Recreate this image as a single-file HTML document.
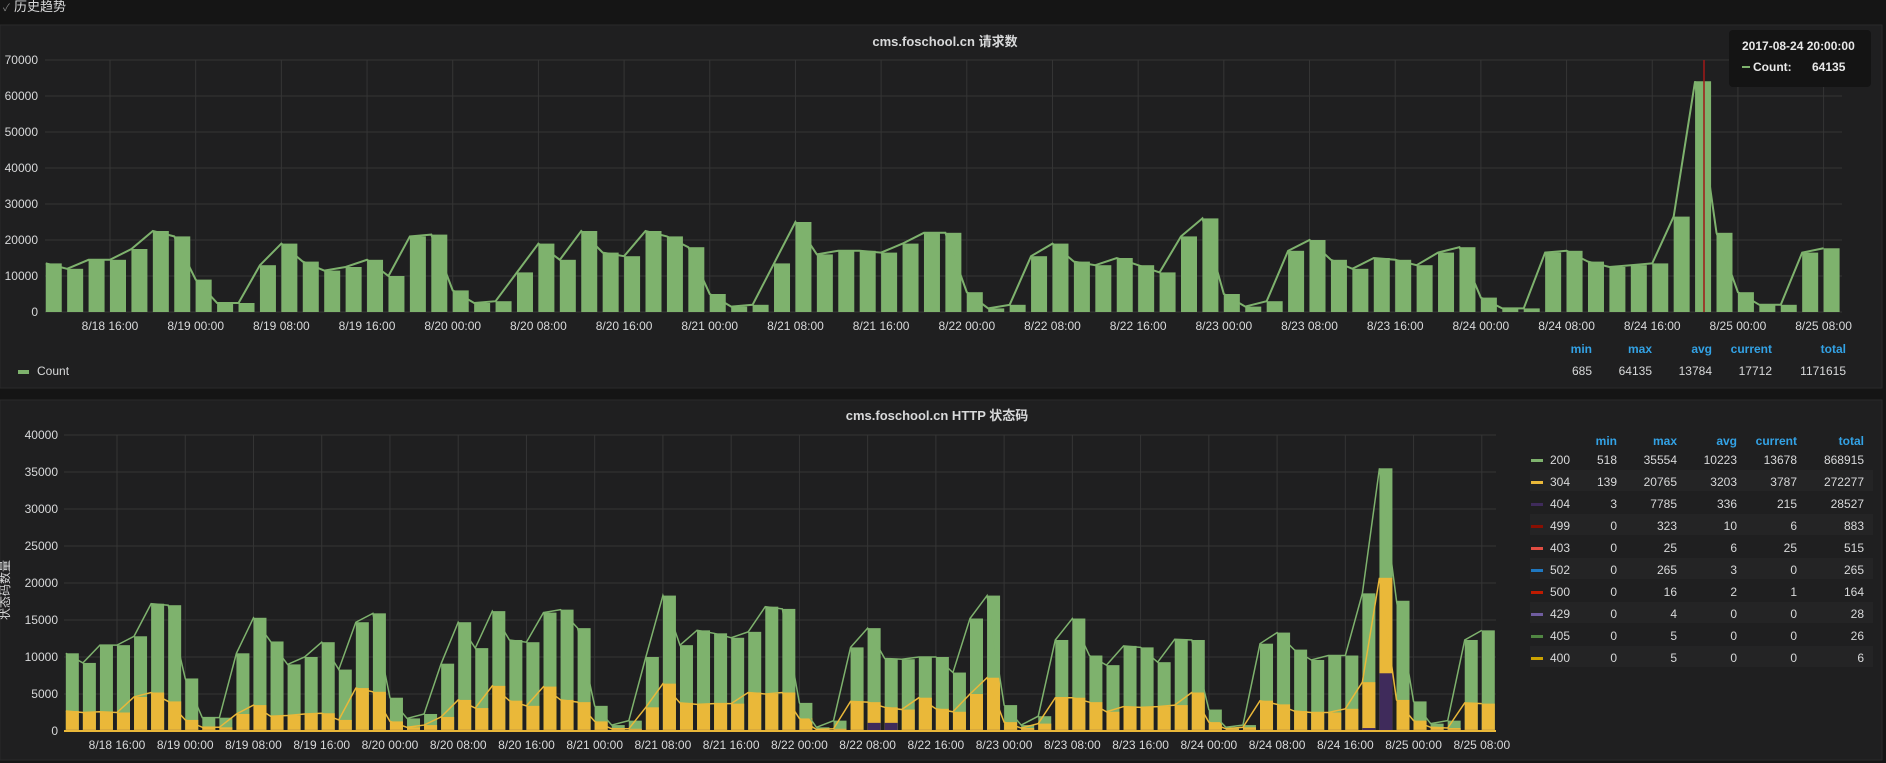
<!DOCTYPE html>
<html><head><meta charset="utf-8">
<style>
html,body{margin:0;padding:0;background:#141414;width:1886px;height:763px;overflow:hidden;font-family:"Liberation Sans","Noto Sans CJK SC",sans-serif;}
svg{display:block}
</style></head>
<body>
<svg id="s" width="1886" height="763" xmlns="http://www.w3.org/2000/svg" font-family="Liberation Sans, Noto Sans CJK SC, sans-serif">
<rect x="0" y="0" width="1886" height="763" fill="#151515"/>
<rect x="0" y="25" width="1882" height="363" fill="#1f1f20" stroke="#2a2a2a"/>
<rect x="0" y="400" width="1882" height="360" fill="#1f1f20" stroke="#2a2a2a"/>
<text x="3" y="11" fill="#888" font-size="10">✓</text>
<text x="14" y="11" fill="#d8d9da" font-size="13">历史趋势</text>
<text x="945" y="46" fill="#d8d9da" font-size="13" font-weight="bold" text-anchor="middle">cms.foschool.cn 请求数</text>
<text x="937" y="420" fill="#d8d9da" font-size="13" font-weight="bold" text-anchor="middle">cms.foschool.cn HTTP 状态码</text>
<g id="g"></g>
</svg>
<script>
var NS="http://www.w3.org/2000/svg",G=document.getElementById('g');
function el(t,a,txt){var e=document.createElementNS(NS,t);for(var k in a)e.setAttribute(k,a[k]);if(txt!=null)e.textContent=txt;G.appendChild(e);return e;}
var labels=["8/18 16:00","8/19 00:00","8/19 08:00","8/19 16:00","8/20 00:00","8/20 08:00","8/20 16:00","8/21 00:00","8/21 08:00","8/21 16:00","8/22 00:00","8/22 08:00","8/22 16:00","8/23 00:00","8/23 08:00","8/23 16:00","8/24 00:00","8/24 08:00","8/24 16:00","8/25 00:00","8/25 08:00"];
var cnt=[13.5,12,14.5,14.5,17.5,22.5,21,9,2.5,2.5,13,19,14,11.5,12.5,14.5,10,21,21.5,6,2.5,3,11,19,14.5,22.5,16.5,15.5,22.5,21,18,
5,1.5,2,13.5,25,16,17,17,16.5,19,22,22,
5.5,1,2,15.5,19,14,13,15,13,11,21,26,
5,1.5,3,17,20,14.5,12,15,14.5,13,16.5,18,
4,1,1,16.5,17,14,12.5,13,13.5,26.5,64.1,22,
5.5,2,2,16.5,17.7];
(function(){
 var L=45,R=1842,Y0=312,ppk=252/70,x0=110,pph=10.71;
 for(var i=0;i<=7;i++){var y=Y0-i*10*ppk;el('line',{x1:L,x2:R,y1:y,y2:y,stroke:'#353535','stroke-width':1});
  el('text',{x:38,y:y+4,fill:'#d8d9da','font-size':12,'text-anchor':'end'},String(i*10000));}
 for(var j=0;j<labels.length;j++){var x=x0+j*8*pph;el('line',{x1:x,x2:x,y1:60,y2:Y0,stroke:'#353535'});
  el('text',{x:x,y:330,fill:'#d8d9da','font-size':12,'text-anchor':'middle'},labels[j]);}
 var pts=[];
 for(var i=0;i<cnt.length;i++){var x=x0+(i*2-6)*pph,h=cnt[i]*ppk;
  el('rect',{x:x,y:Y0-h,width:16,height:h,fill:'#7eb26d'});pts.push(x+','+(Y0-h));}
 el('polyline',{points:pts.join(' '),fill:'none',stroke:'#7eb26d','stroke-width':2});
 el('line',{x1:1704,x2:1704,y1:60,y2:Y0,stroke:'#a01818','stroke-width':1.5});
 el('rect',{x:1729,y:30,width:142,height:57,rx:4,fill:'#141414'});
 el('text',{x:1742,y:50,fill:'#e8e8e8','font-size':12,'font-weight':'bold'},'2017-08-24 20:00:00');
 el('rect',{x:1742,y:66,width:8,height:2,fill:'#7eb26d'});
 el('text',{x:1753,y:71,fill:'#e8e8e8','font-size':12,'font-weight':'bold'},'Count:');
 el('text',{x:1812,y:71,fill:'#e8e8e8','font-size':12,'font-weight':'bold','text-anchor':'start'},'64135');
 el('rect',{x:18,y:370,width:11,height:4,fill:'#7eb26d'});
 el('text',{x:37,y:375,fill:'#d8d9da','font-size':12},'Count');
 var hx=[1592,1652,1712,1772,1846],hs=['min','max','avg','current','total'],vs=['685','64135','13784','17712','1171615'];
 for(var k=0;k<5;k++){el('text',{x:hx[k],y:353,fill:'#33a2e5','font-size':12,'font-weight':'bold','text-anchor':'end'},hs[k]);
  el('text',{x:hx[k],y:375,fill:'#d8d9da','font-size':12,'text-anchor':'end'},vs[k]);}
})();
var grn=[10.5,9.2,11.6,11.6,12.8,17.2,17,7.1,1.8,1.8,10.5,15.3,12.1,9,10,12,8.3,14.7,15.9,4.5,1.7,2.3,9.1,14.7,11.2,16.2,12.3,12,16,16.4,13.9,
3.4,0.8,1.4,10,18.3,11.6,13.6,13.2,12.6,13.4,16.8,16.5,
3.8,0.5,1.4,11.3,13.9,9.8,9.7,10,10,7.9,15.2,18.3,
3.5,0.8,2,12.3,15.2,10.2,8.9,11.5,11.3,9.3,12.4,12.3,
2.9,0.5,0.8,11.8,13.3,11,9.6,10.2,10.2,18.6,35.5,17.6,
4,1,1.4,12.3,13.6];
var yel=[2.7,2.5,2.6,2.5,4.6,5.2,4,1.5,0.5,0.5,2.3,3.5,2,2.1,2.3,2.4,1.5,5.8,5.3,1.3,0.5,0.8,1.9,4.2,3.1,6.1,4.1,3.4,6,4.2,3.9,
1.3,0.3,0.3,3.2,6.4,3.8,3.6,3.7,3.7,5.2,5,5.2,
1.7,0.2,0.3,4,3.9,3.2,2.9,4.5,3,2.6,5,7.2,
1.2,0.4,1,4.5,4.5,3.9,2.6,3.3,3.2,3.3,3.5,5.2,
1.2,0.3,0.5,4.1,3.6,2.7,2.5,2.5,3,6.6,20.7,4.2,
1.4,0.5,0.4,3.8,3.7];
(function(){
 var L=64,R=1496,Y0=731,ppk=296/40,x0=117,pph=8.53;
 for(var i=0;i<=8;i++){var y=Y0-i*5*ppk;el('line',{x1:L,x2:R,y1:y,y2:y,stroke:'#353535'});
  el('text',{x:58,y:y+4,fill:'#d8d9da','font-size':12,'text-anchor':'end'},String(i*5000));}
 for(var j=0;j<labels.length;j++){var x=x0+j*8*pph;el('line',{x1:x,x2:x,y1:435,y2:Y0,stroke:'#353535'});
  el('text',{x:x,y:749,fill:'#d8d9da','font-size':12,'text-anchor':'middle'},labels[j]);}
 var pg=[],py=[];
 for(var i=0;i<grn.length;i++){var x=x0+(i*2-6)*pph,hg=grn[i]*ppk,hy=yel[i]*ppk;
  el('rect',{x:x,y:Y0-hg,width:13,height:hg,fill:'#7eb26d'});
  el('rect',{x:x,y:Y0-hy,width:13,height:hy,fill:'#eab839'});
  var p=0.15; if(i==47||i==48)p=1.1; if(i==77)p=7.8; if(i==76)p=0.4;
  el('rect',{x:x,y:Y0-p*ppk,width:13,height:p*ppk,fill:'#3f2b5b'});
  pg.push(x+','+(Y0-hg));py.push(x+','+(Y0-hy));}
 el('polyline',{points:pg.join(' '),fill:'none',stroke:'#7eb26d','stroke-width':1.5});
 el('polyline',{points:py.join(' '),fill:'none',stroke:'#eab839','stroke-width':1.5});
 el('line',{x1:L,x2:R,y1:Y0,y2:Y0,stroke:'#eab839','stroke-width':2});
 el('text',{x:0,y:0,fill:'#d8d9da','font-size':12,transform:'translate(9,590) rotate(-90)','text-anchor':'middle'},'状态码数量');
 var hx=[1617,1677,1737,1797,1864],hs=['min','max','avg','current','total'];
 for(var k=0;k<5;k++)el('text',{x:hx[k],y:445,fill:'#33a2e5','font-size':12,'font-weight':'bold','text-anchor':'end'},hs[k]);
 var rows=[['200','#7eb26d','518','35554','10223','13678','868915'],['304','#eab839','139','20765','3203','3787','272277'],['404','#3f2b5b','3','7785','336','215','28527'],['499','#890f02','0','323','10','6','883'],['403','#e24d42','0','25','6','25','515'],['502','#1f78c1','0','265','3','0','265'],['500','#bf1b00','0','16','2','1','164'],['429','#705da0','0','4','0','0','28'],['405','#508642','0','5','0','0','26'],['400','#cca300','0','5','0','0','6']];
 for(var r=0;r<rows.length;r++){var y=462+r*22;
  if(r%2==1)el('rect',{x:1530,y:y-14,width:343,height:21,fill:'#242425'});
  el('rect',{x:1531,y:y-3,width:12,height:3,fill:rows[r][1]});
  el('text',{x:1550,y:y+2,fill:'#d8d9da','font-size':12},rows[r][0]);
  for(var k=0;k<5;k++)el('text',{x:hx[k],y:y+2,fill:'#d8d9da','font-size':12,'text-anchor':'end'},rows[r][k+2]);}
})();
</script>
</body></html>
